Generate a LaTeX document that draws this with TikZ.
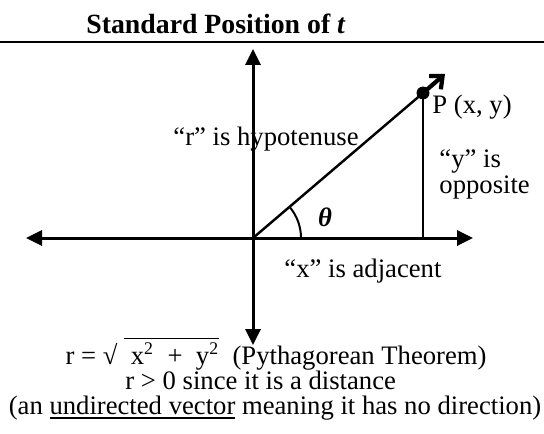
\documentclass[tikz,border=0pt]{standalone}
\usepackage{fontspec}
\setmainfont{Liberation Serif}
\usepackage{amsmath}
\usetikzlibrary{arrows.meta}

\begin{document}
\begin{tikzpicture}[x=0.45pt,y=-0.45pt,
    font=\fontsize{12}{14}\selectfont,
    axis/.style={line width=1.35pt,{Triangle[length=7.2pt,width=6.8pt]}-{Triangle[length=7.2pt,width=6.8pt]}},
    lbl/.style={inner sep=0pt}]
    \useasboundingbox (0,0) rectangle (544,433);
    \node[lbl,anchor=base] at(216,34)(title){\fontsize{12.5}{14}\selectfont\bfseries Standard Position of \textit{t}};
    \coordinate (rulel) at (0,42);
    \coordinate (ruler) at (544,42);
    \coordinate (o) at (253,238);
    \coordinate (xl) at (26,238);
    \coordinate (xr) at (473,238);
    \coordinate (yt) at (253,49);
    \coordinate (yb) at (253,345);
    \coordinate (foot) at (423,238);
    \coordinate (tip) at (445,74);
    \node[circle,fill,inner sep=0pt,minimum size=5.8pt] at(423,93)(p){};
    \node[lbl,anchor=base west] at(173,145)(hyp){“r” is hypotenuse};
    \node[lbl,anchor=base west] at(432,113)(plabel){P (x, y)};
    \node[lbl,anchor=base west] at(439,167)(opp1){“y” is};
    \node[lbl,anchor=base west] at(439,193)(opp2){opposite};
    \node[lbl,anchor=base west] at(284,277)(adj){“x” is adjacent};
    \node at(325,217)(theta){\bfseries\itshape θ};
    \node[lbl,anchor=base east] at(487,364)(pyth){r = √ $\overline{\text{ x\textsuperscript{2} \ + \ y\textsuperscript{2}}}$ \ (Pythagorean Theorem)};
    \node[lbl,anchor=base west] at(125,389)(dist){r > 0 since it is a distance};
    \node[lbl,anchor=base] at(275,414)(undir){(an \underline{undirected vector} meaning it has no direction)};
    \draw[line width=0.7pt] (rulel) -- (ruler);
    \draw[axis] (xl) -- (xr);
    \draw[axis] (yb) -- (yt);
    \draw[line width=1.1pt] (o) -- (p.center);
    \draw[line width=1.9pt,-{Straight Barb[length=4.5pt,width=8pt]}] (p.center) -- (tip);
    \draw[line width=0.9pt] (p.center) -- (foot);
    \draw[line width=0.9pt] (o) ++(48,0) arc[start angle=0,end angle=40.5,radius=21.6pt];
\end{tikzpicture}
\end{document}
